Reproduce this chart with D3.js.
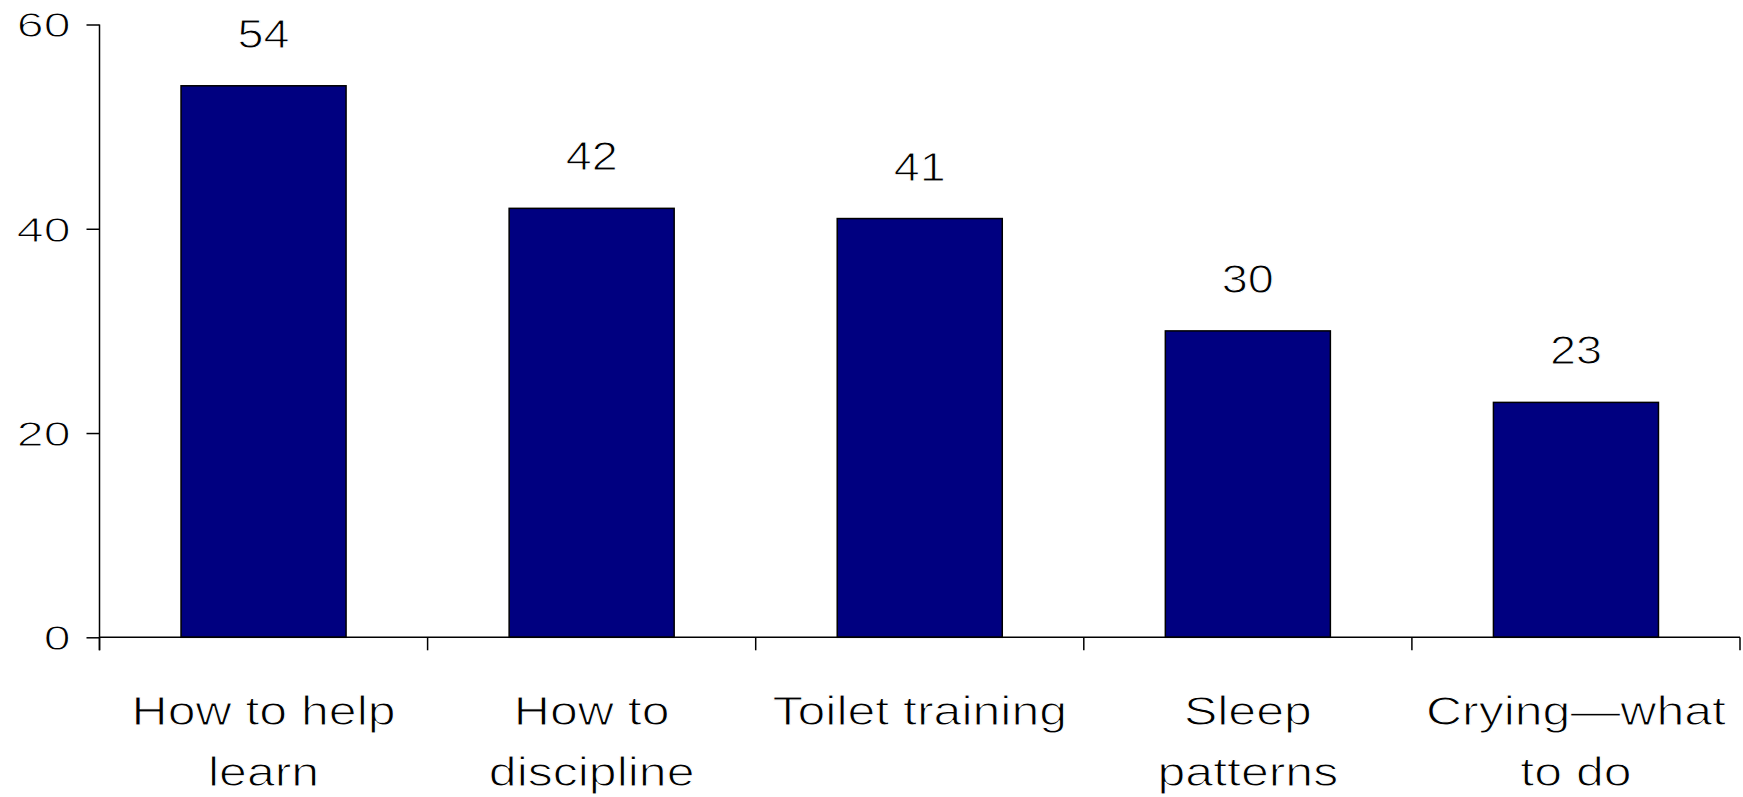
<!DOCTYPE html>
<html>
<head>
<meta charset="utf-8">
<script src="https://cdn.jsdelivr.net/npm/d3@7"></script>
<style>
  html, body { margin: 0; padding: 0; background: #fff; }
  svg { display: block; }
  text { font-family: "Liberation Sans", Arial, sans-serif; fill: #000; stroke: #fff; stroke-width: 1; paint-order: normal; }
</style>
</head>
<body>
<svg id="chart" width="1743" height="797"></svg>
<script>
const categories = [["How to help", "learn"], ["How to", "discipline"], ["Toilet training"], ["Sleep", "patterns"], ["Crying\u2014what", "to do"]];
const values = [54, 42, 41, 30, 23];
const yTicks = [0, 20, 40, 60];

const svg = d3.select("#chart");
const x0 = 99.5, x1 = 1740, yTop = 24.5, yBot = 637.3;
const keys = categories.map((c, i) => i);
const x = d3.scaleBand().domain(keys).range([x0, x1]).paddingInner(0.497).paddingOuter(0.2485);
const y = d3.scaleLinear().domain([0, 60]).range([yBot, yTop]);

// bars
svg.append("g").selectAll("rect").data(values).join("rect")
  .attr("x", (d, i) => x(i))
  .attr("y", d => y(d))
  .attr("width", x.bandwidth())
  .attr("height", d => y(0) - y(d))
  .attr("fill", "#000080")
  .attr("stroke", "#000")
  .attr("stroke-width", 1.5);

// y axis
const yAxis = svg.append("g").attr("transform", `translate(${x0},0)`)
  .call(d3.axisLeft(y).tickValues(yTicks).tickSize(13).tickPadding(16).tickFormat(d3.format("d")));
yAxis.select(".domain").remove();
yAxis.selectAll(".tick line").attr("stroke", "#000").attr("stroke-width", 1.5);
yAxis.selectAll(".tick text").attr("font-size", 35).attr("font-family", '"Liberation Sans", Arial, sans-serif')
  .attr("dy", "0.35em")
  .attr("fill", "#000")
  .each(function() {
    const t = d3.select(this);
    t.attr("x", null).attr("text-anchor", "end")
     .attr("transform", "translate(-29,0) scale(1.38,1)");
  });
// vertical axis line
svg.append("line").attr("x1", x0).attr("x2", x0).attr("y1", y(60)).attr("y2", yBot + 13)
  .attr("stroke", "#000").attr("stroke-width", 1.5);

// x axis baseline and ticks
svg.append("line").attr("x1", x0).attr("x2", x1).attr("y1", yBot).attr("y2", yBot)
  .attr("stroke", "#000").attr("stroke-width", 1.5);
const boundaries = keys.map(i => x(i) - x.step() * x.paddingInner() / 2).concat([x1]);
svg.append("g").selectAll("line").data(boundaries).join("line")
  .attr("x1", d => d).attr("x2", d => d).attr("y1", yBot).attr("y2", yBot + 13)
  .attr("stroke", "#000").attr("stroke-width", 1.5);

// category labels
const catG = svg.append("g").selectAll("g").data(categories).join("g")
  .attr("transform", (d, i) => `translate(${x(i) + x.bandwidth() / 2},0) scale(1.25,1)`);
catG.each(function(lines) {
  const g = d3.select(this);
  lines.forEach((ln, j) => {
    g.append("text").attr("x", 0).attr("y", 725 + j * 61)
      .attr("text-anchor", "middle").attr("font-size", 40).text(ln);
  });
});

// value labels
svg.append("g").selectAll("g").data(values).join("g")
  .attr("transform", (d, i) => `translate(${x(i) + x.bandwidth() / 2},${y(d) - 38}) scale(1.17,1)`)
  .append("text").attr("text-anchor", "middle").attr("font-size", 40).text(d => d);
</script>
</body>
</html>
